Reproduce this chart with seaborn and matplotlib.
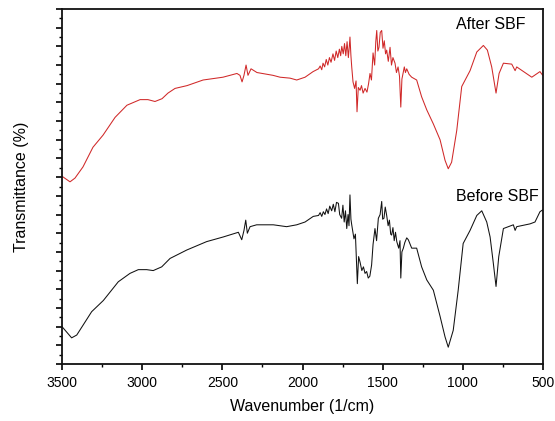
import matplotlib
matplotlib.use("Agg")
import matplotlib.pyplot as plt
import pandas as pd
import seaborn as sns
from matplotlib.ticker import MultipleLocator, NullFormatter

# FTIR spectra (transmittance in arbitrary units)
after_wn = [3500, 3450, 3419, 3369, 3307, 3244, 3169, 3095, 3013, 2964, 2920, 2876, 2839, 2795,
            2720, 2620, 2496, 2409, 2390, 2377, 2365, 2352, 2340, 2321, 2284, 2184, 2140, 2078,
            2036, 1984, 1934, 1900, 1890, 1880, 1872, 1862, 1852, 1842, 1832, 1822, 1810, 1800,
            1790, 1780, 1770, 1762, 1755, 1746, 1738, 1730, 1722, 1714, 1708, 1704, 1698, 1693,
            1685, 1675, 1666, 1660, 1652, 1641, 1632, 1622, 1610, 1598, 1588, 1579, 1570, 1560,
            1550, 1543, 1537, 1530, 1523, 1515, 1506, 1498, 1490, 1482, 1475, 1465, 1454, 1445,
            1436, 1423, 1414, 1404, 1395, 1387, 1380, 1373, 1365, 1358, 1350, 1335, 1319, 1288,
            1257, 1225, 1184, 1142, 1111, 1091, 1070, 1038, 1007, 955, 913, 872, 847, 820, 793,
            774, 747, 695, 674, 664, 570, 519, 502]
after_t = [20.1, 19.5, 19.9, 21.1, 23.2, 24.5, 26.4, 27.7, 28.3, 28.3, 28.1, 28.4, 29.0, 29.5,
           29.8, 30.4, 30.7, 31.1, 30.9, 30.2, 30.9, 32.0, 30.9, 31.6, 31.2, 30.9, 30.7, 30.6,
           30.4, 30.7, 31.3, 31.6, 31.9, 31.5, 32.2, 31.8, 32.6, 32.0, 32.8, 32.3, 33.2, 32.5,
           33.5, 32.8, 33.7, 33.0, 34.0, 33.2, 34.3, 33.0, 34.5, 32.8, 34.0, 35.0, 33.0, 31.8,
           30.2, 29.5, 30.3, 27.0, 29.6, 29.3, 29.8, 29.0, 29.5, 29.1, 30.0, 31.1, 30.4, 33.3,
           32.0, 34.5, 35.7, 33.5, 33.9, 35.5, 35.7, 33.8, 34.6, 33.2, 33.6, 32.4, 33.9, 32.0,
           32.8, 32.2, 31.2, 31.8, 30.8, 27.5, 30.5, 31.1, 31.8, 31.2, 31.6, 31.0, 30.7, 30.4,
           28.6, 27.2, 25.7, 24.0, 21.8, 20.9, 21.6, 25.0, 29.7, 31.4, 33.4, 34.1, 33.6, 31.8, 29.0,
           31.1, 32.2, 32.1, 31.4, 31.8, 30.7, 31.3, 30.9]

before_wn = [3500, 3440, 3408, 3367, 3315, 3242, 3149, 3076, 3024, 2972, 2931, 2878, 2826, 2722,
             2598, 2494, 2400, 2379, 2365, 2354, 2344, 2327, 2286, 2182, 2099, 2036, 1984, 1933,
             1900, 1890, 1880, 1870, 1860, 1850, 1840, 1830, 1818, 1808, 1798, 1788, 1776, 1768,
             1756, 1748, 1740, 1732, 1724, 1716, 1710, 1704, 1698, 1693, 1679, 1670, 1658, 1650,
             1641, 1630, 1620, 1610, 1600, 1590, 1580, 1569, 1560, 1548, 1538, 1527, 1516, 1506,
             1500, 1492, 1484, 1475, 1466, 1458, 1450, 1444, 1436, 1428, 1420, 1412, 1400, 1392,
             1387, 1380, 1371, 1362, 1350, 1340, 1319, 1288, 1257, 1225, 1184, 1142, 1111, 1091,
             1060, 1029, 998, 955, 913, 882, 851, 830, 810, 793, 776, 747, 685, 674, 664, 581,
             550, 519, 502]
before_t = [4.0, 2.8, 3.1, 4.2, 5.6, 6.8, 8.8, 9.7, 10.1, 10.1, 10.0, 10.4, 11.3, 12.2,
            13.1, 13.6, 14.1, 13.3, 14.3, 15.4, 14.0, 14.7, 14.9, 14.9, 14.7, 14.9, 15.2, 15.8,
            15.9, 16.2, 15.8, 16.3, 16.0, 16.6, 16.1, 16.9, 16.4, 17.1, 16.3, 17.3, 17.2, 16.0,
            15.6, 17.0, 15.2, 16.4, 14.5, 16.0, 14.8, 18.1, 15.5, 14.9, 13.4, 13.9, 8.6, 11.5,
            10.9, 10.0, 10.4, 9.7, 9.9, 9.2, 9.4, 10.6, 12.8, 14.5, 13.2, 15.6, 16.0, 17.4,
            15.5, 15.6, 16.8, 15.9, 14.8, 15.4, 13.9, 13.8, 14.6, 13.2, 14.1, 13.1, 12.4, 13.2,
            9.2, 12.0, 12.4, 13.0, 13.5, 13.3, 12.4, 12.4, 10.4, 9.0, 7.9, 5.1, 2.9, 1.8,
            3.6, 7.9, 12.9, 14.3, 15.9, 16.4, 15.2, 13.6, 10.8, 8.3, 11.5, 14.5, 14.9, 14.3, 14.7, 15.0,
            15.2, 16.3, 16.5]

df = pd.concat([
    pd.DataFrame({"wavenumber": after_wn, "T": after_t, "sample": "After SBF"}),
    pd.DataFrame({"wavenumber": before_wn, "T": before_t, "sample": "Before SBF"}),
])

sns.set_style("ticks")
plt.rcParams["font.family"] = ["Liberation Sans", "DejaVu Sans"]
plt.rcParams["text.color"] = "black"
plt.rcParams["axes.labelcolor"] = "black"
plt.rcParams["xtick.color"] = "black"
plt.rcParams["ytick.color"] = "black"

fig = plt.figure(figsize=(5.55, 4.21), dpi=100)
ax = fig.add_axes([0.1117, 0.1354, 0.8667, 0.8432])
sns.lineplot(data=df, x="wavenumber", y="T", hue="sample", estimator=None, sort=False,
             palette={"After SBF": "#d02828", "Before SBF": "#111111"},
             linewidth=0.75, legend=False, ax=ax)

ax.set_xlim(3500, 500)
ax.set_ylim(0, 38)
ax.xaxis.set_major_locator(MultipleLocator(500))
ax.xaxis.set_minor_locator(MultipleLocator(250))
ax.yaxis.set_major_locator(MultipleLocator(2))
ax.yaxis.set_minor_locator(MultipleLocator(1))
ax.yaxis.set_major_formatter(NullFormatter())
ax.tick_params(axis="both", which="major", direction="out", length=4, width=1.2,
               labelsize=10, pad=5)
ax.tick_params(axis="both", which="minor", direction="out", length=2.5, width=1.0)
for s in ax.spines.values():
    s.set_linewidth(1.3)
    s.set_color("#111111")

ax.text(612, 36.3, "After SBF", ha="right", va="center", fontsize=11.5)
ax.text(525, 17.9, "Before SBF", ha="right", va="center", fontsize=11.5)
ax.set_xlabel("Wavenumber (1/cm)", fontsize=11.5, labelpad=6)
ax.set_ylabel("Transmittance (%)", fontsize=11.5, labelpad=15)

fig.savefig("out.png", dpi=100)
